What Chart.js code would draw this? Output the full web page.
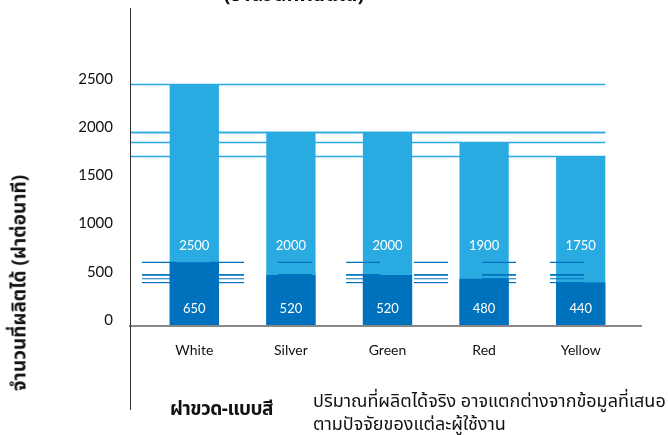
<!DOCTYPE html>
<html>
<head>
<meta charset="utf-8">
<script src="https://cdn.jsdelivr.net/npm/chart.js@4"></script>
<style>
    body { margin: 0; background: #fff; }
    #wrap { position: relative; width: 668px; height: 435px; overflow: hidden; }
    #chart { position: absolute; left: 0; top: 0; }
    .txt { position: absolute; color: #111; font-family: "Noto Sans", "Noto Sans Thai", sans-serif; white-space: nowrap; }
    #topTitle { left: 0; width: 588px; text-align: center; top: -20px; font-size: 20px; font-weight: 700; }
    #yTitle { left: 20px; top: 283px; font-size: 19px; font-weight: 700; transform: translate(-50%, -50%) rotate(-90deg); }
    #footHead { left: 170px; top: 395px; font-size: 19px; font-weight: 700; letter-spacing: -0.5px; }
    #footNote { left: 313px; top: 389px; font-size: 18px; line-height: 23px; }
</style>
</head>
<body>
<div id="wrap">
    <canvas id="chart" width="668" height="435"></canvas>
    <div class="txt" id="topTitle">(จำนวนที่ผลิตได้)</div>
    <div class="txt" id="yTitle">จำนวนที่ผลิตได้ (ฝาต่อนาที)</div>
    <div class="txt" id="footHead">ฝาขวด-แบบสี</div>
    <div class="txt" id="footNote">ปริมาณที่ผลิตได้จริง อาจแตกต่างจากข้อมูลที่เสนอ<br>ตามปัจจัยของแต่ละผู้ใช้งาน</div>
</div>
<script>
// data
const colours = ['White', 'Silver', 'Green', 'Red', 'Yellow'];
const maxOutput = [2500, 2000, 2000, 1900, 1750];
const minOutput = [650, 520, 520, 480, 440];
const yTicks = [0, 500, 1000, 1500, 2000, 2500];

const LIGHT = '#29abe2';
const DARK = '#0071bc';
const FONT = '"Lato", "Noto Sans", sans-serif';

function barEnds(chart) {
    const bars = chart.getDatasetMeta(1).data;
    const last = bars[bars.length - 1];
    return [chart.chartArea.left - 16, last.x + last.width / 2];
}

// reference lines + value labels
const guides = {
    id: 'guides',
    beforeDatasetsDraw(chart) {
        const { ctx, scales: { y } } = chart;
        const [x0, x1] = barEnds(chart);
        ctx.save();
        ctx.strokeStyle = LIGHT;
        ctx.lineWidth = 1.5;
        maxOutput.forEach(v => {
            const py = Math.round(y.getPixelForValue(v)) + 0.5;
            ctx.beginPath();
            ctx.moveTo(x0, py);
            ctx.lineTo(x1, py);
            ctx.stroke();
        });
        ctx.restore();
    },
    beforeDatasetDraw(chart, args) {
        if (args.index !== 0) return;
        const { ctx, scales: { y } } = chart;
        const [x0, x1] = barEnds(chart);
        ctx.save();
        ctx.strokeStyle = DARK;
        ctx.lineWidth = 1.2;
        ctx.setLineDash([34, 34]);
        ctx.lineDashOffset = 56;
        minOutput.forEach(v => {
            const py = y.getPixelForValue(v);
            ctx.beginPath();
            ctx.moveTo(x0, py);
            ctx.lineTo(x1, py);
            ctx.stroke();
        });
        ctx.restore();
    },
    afterDatasetsDraw(chart) {
        const { ctx, chartArea, scales: { y } } = chart;
        const zero = y.getPixelForValue(0);
        ctx.save();
        // zero line
        ctx.strokeStyle = '#888';
        ctx.lineWidth = 2;
        ctx.beginPath();
        ctx.moveTo(chartArea.left - 17, zero + 1);
        ctx.lineTo(chartArea.right + 13, zero + 1);
        ctx.stroke();
        // vertical axis
        ctx.strokeStyle = '#333';
        ctx.lineWidth = 1;
        ctx.beginPath();
        ctx.moveTo(chartArea.left - 15.5, chartArea.top + 1);
        ctx.lineTo(chartArea.left - 15.5, 410);
        ctx.stroke();
        // value labels
        ctx.fillStyle = '#fff';
        ctx.font = '13px ' + FONT;
        ctx.textAlign = 'center';
        ctx.textBaseline = 'middle';
        chart.getDatasetMeta(1).data.forEach((bar, i) => {
            ctx.fillText(maxOutput[i], bar.x, zero - 79);
            ctx.fillText(minOutput[i], bar.x, zero - 16);
        });
        ctx.restore();
    }
};

new Chart(document.getElementById('chart'), {
    type: 'bar',
    data: {
        labels: colours,
        datasets: [{
            label: 'ต่ำสุด',
            data: minOutput,
            backgroundColor: DARK,
            grouped: false,
            order: 0,
            categoryPercentage: 1,
            barPercentage: 0.51
        }, {
            label: 'สูงสุด',
            data: maxOutput,
            backgroundColor: LIGHT,
            grouped: false,
            order: 1,
            categoryPercentage: 1,
            barPercentage: 0.51
        }]
    },
    options: {
        responsive: false,
        animation: false,
        layout: { padding: { left: 76, right: 39, top: 7, bottom: 78 } },
        plugins: {
            legend: { display: false },
            tooltip: { enabled: false }
        },
        scales: {
            x: {
                grid: { display: false, drawTicks: false },
                border: { display: false },
                ticks: { color: '#111', font: { family: FONT, size: 14 }, padding: 17 },
                afterFit(scale) {
                    scale.height = 32;
                    scale.paddingLeft = 0;
                    scale.paddingRight = 0;
                }
            },
            y: {
                min: 0,
                max: 3300,
                afterBuildTicks(scale) {
                    scale.ticks = yTicks.map(v => ({ value: v }));
                },
                grid: { display: false, drawTicks: false },
                border: { display: false },
                ticks: {
                    color: '#111',
                    font: { family: FONT, size: 15 },
                    padding: 33,
                    labelOffset: -5,
                    callback: v => String(v)
                },
                afterFit(scale) {
                    scale.width = 70;
                    scale.paddingTop = 0;
                    scale.paddingBottom = 0;
                }
            }
        }
    },
    plugins: [guides]
});
</script>
</body>
</html>
